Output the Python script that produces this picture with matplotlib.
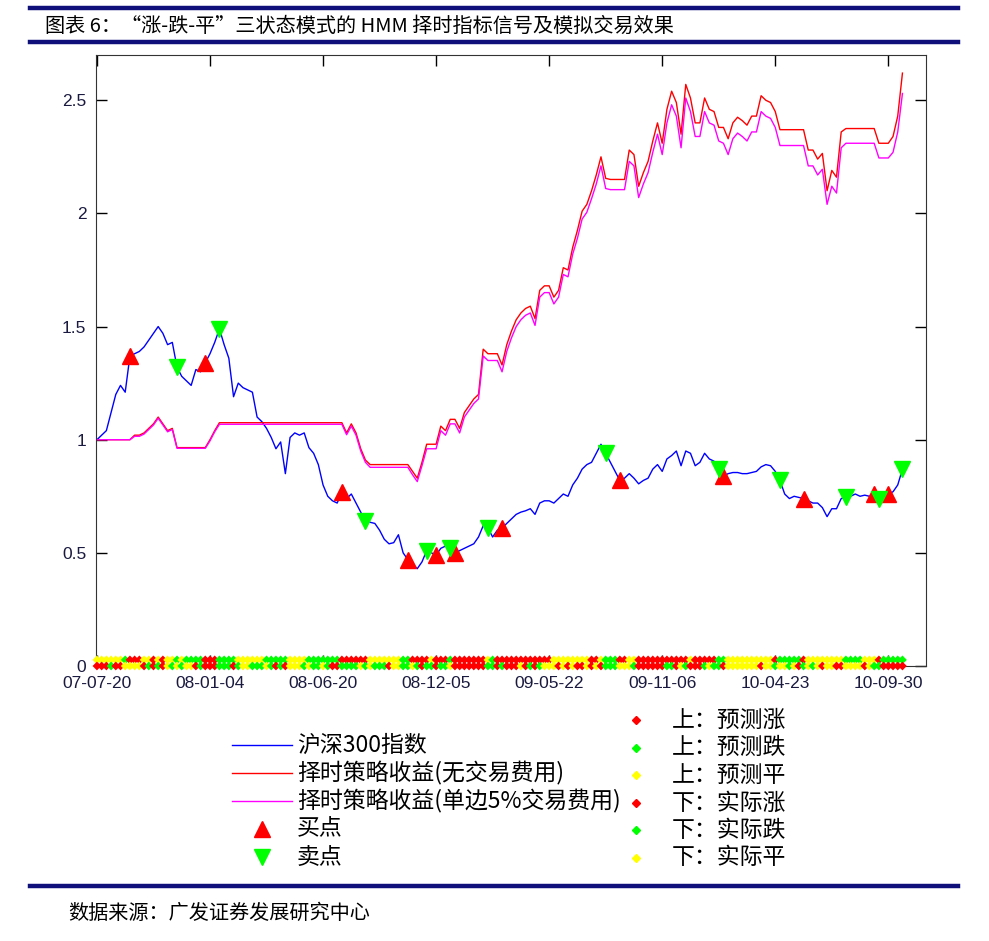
import numpy as np
import matplotlib
matplotlib.use("Agg")
import matplotlib.pyplot as plt
from matplotlib.lines import Line2D

plt.rcParams['font.family'] = ['Noto Sans CJK SC', 'DejaVu Sans']

# weekly data, 2007-07-20 .. 2010-10
tick_pos = [0, 24, 48, 72, 96, 120, 144, 168]
tick_labels = ["07-07-20", "08-01-04", "08-06-20", "08-12-05",
               "09-05-22", "09-11-06", "10-04-23", "10-09-30"]

hs300 = [
    1.00, 1.02, 1.04, 1.12, 1.20, 1.24, 1.21, 1.37, 1.38, 1.39,
    1.41, 1.44, 1.47, 1.50, 1.47, 1.42, 1.43, 1.32, 1.28, 1.26,
    1.24, 1.31, 1.30, 1.34, 1.38, 1.43, 1.49, 1.42, 1.36, 1.19,
    1.25, 1.23, 1.22, 1.21, 1.10, 1.08, 1.05, 1.01, 0.96, 0.99,
    0.85, 1.01, 1.03, 1.02, 1.03, 0.965, 0.94, 0.89, 0.80, 0.75,
    0.73, 0.72, 0.77, 0.74, 0.76, 0.72, 0.68, 0.64, 0.635, 0.63,
    0.60, 0.56, 0.54, 0.545, 0.58, 0.50, 0.47, 0.45, 0.43, 0.46,
    0.51, 0.50, 0.49, 0.52, 0.53, 0.52, 0.50, 0.51, 0.52, 0.53,
    0.54, 0.57, 0.62, 0.61, 0.57, 0.60, 0.61, 0.63, 0.65, 0.67,
    0.68, 0.686, 0.695, 0.67, 0.72, 0.73, 0.73, 0.72, 0.74, 0.76,
    0.75, 0.80, 0.83, 0.87, 0.89, 0.90, 0.94, 0.98, 0.94, 0.90,
    0.86, 0.82, 0.83, 0.85, 0.83, 0.805, 0.82, 0.83, 0.87, 0.89,
    0.86, 0.915, 0.93, 0.95, 0.885, 0.95, 0.94, 0.885, 0.90, 0.94,
    0.915, 0.905, 0.87, 0.84, 0.85, 0.855, 0.855, 0.85, 0.85, 0.855,
    0.86, 0.88, 0.89, 0.885, 0.86, 0.82, 0.76, 0.74, 0.75, 0.745,
    0.74, 0.73, 0.72, 0.72, 0.70, 0.66, 0.695, 0.695, 0.74, 0.745,
    0.75, 0.76, 0.75, 0.755, 0.75, 0.76, 0.74, 0.75, 0.76, 0.77,
    0.80, 0.87,
]

strat = [
    1.00, 1.00, 1.00, 1.00, 1.00, 1.00, 1.00, 1.00, 1.02, 1.02,
    1.03, 1.05, 1.07, 1.10, 1.07, 1.04, 1.05, 0.965, 0.965, 0.965,
    0.965, 0.965, 0.965, 0.965, 1.00, 1.04, 1.075, 1.075, 1.075, 1.075,
    1.075, 1.075, 1.075, 1.075, 1.075, 1.075, 1.075, 1.075, 1.075, 1.075,
    1.075, 1.075, 1.075, 1.075, 1.075, 1.075, 1.075, 1.075, 1.075, 1.075,
    1.075, 1.075, 1.075, 1.03, 1.07, 1.03, 0.96, 0.91, 0.89, 0.89,
    0.89, 0.89, 0.89, 0.89, 0.89, 0.89, 0.89, 0.86, 0.83, 0.90,
    0.98, 0.98, 0.98, 1.06, 1.04, 1.09, 1.09, 1.05, 1.12, 1.15,
    1.18, 1.20, 1.40, 1.38, 1.38, 1.38, 1.33, 1.42, 1.48, 1.53,
    1.56, 1.58, 1.59, 1.535, 1.66, 1.68, 1.68, 1.63, 1.66, 1.76,
    1.75, 1.85, 1.925, 2.01, 2.04, 2.10, 2.17, 2.25, 2.155, 2.15,
    2.15, 2.15, 2.15, 2.28, 2.26, 2.12, 2.18, 2.23, 2.32, 2.40,
    2.31, 2.46, 2.54, 2.49, 2.35, 2.57, 2.51, 2.40, 2.40, 2.51,
    2.46, 2.45, 2.38, 2.38, 2.33, 2.40, 2.425, 2.41, 2.39, 2.43,
    2.43, 2.52, 2.50, 2.49, 2.45, 2.37, 2.37, 2.37, 2.37, 2.37,
    2.37, 2.28, 2.28, 2.24, 2.265, 2.10, 2.19, 2.16, 2.36, 2.375,
    2.375, 2.375, 2.375, 2.375, 2.375, 2.375, 2.31, 2.31, 2.31, 2.34,
    2.43, 2.62,
]

strat_cost = [
    1.00, 1.00, 1.00, 1.00, 1.00, 1.00, 1.00, 1.00, 1.015, 1.015,
    1.025, 1.045, 1.065, 1.095, 1.065, 1.035, 1.045, 0.962, 0.962, 0.962,
    0.962, 0.962, 0.962, 0.962, 0.995, 1.035, 1.068, 1.068, 1.068, 1.068,
    1.068, 1.068, 1.068, 1.068, 1.068, 1.068, 1.068, 1.068, 1.068, 1.068,
    1.068, 1.068, 1.068, 1.068, 1.068, 1.068, 1.068, 1.068, 1.068, 1.068,
    1.068, 1.068, 1.068, 1.022, 1.06, 1.02, 0.95, 0.90, 0.878, 0.878,
    0.878, 0.878, 0.878, 0.878, 0.878, 0.878, 0.878, 0.845, 0.815, 0.885,
    0.96, 0.96, 0.96, 1.04, 1.02, 1.07, 1.07, 1.03, 1.10, 1.13,
    1.16, 1.18, 1.37, 1.35, 1.35, 1.35, 1.30, 1.39, 1.45, 1.50,
    1.53, 1.55, 1.56, 1.505, 1.63, 1.65, 1.65, 1.60, 1.63, 1.73,
    1.72, 1.82, 1.89, 1.975, 2.005, 2.065, 2.13, 2.21, 2.11, 2.105,
    2.105, 2.105, 2.105, 2.23, 2.21, 2.07, 2.13, 2.18, 2.27, 2.35,
    2.26, 2.40, 2.48, 2.43, 2.29, 2.51, 2.45, 2.34, 2.34, 2.45,
    2.40, 2.39, 2.32, 2.31, 2.26, 2.33, 2.355, 2.34, 2.32, 2.36,
    2.36, 2.45, 2.43, 2.42, 2.38, 2.30, 2.30, 2.30, 2.30, 2.30,
    2.30, 2.21, 2.21, 2.17, 2.195, 2.04, 2.12, 2.09, 2.29, 2.31,
    2.31, 2.31, 2.31, 2.31, 2.31, 2.31, 2.245, 2.245, 2.245, 2.27,
    2.36, 2.53,
]

buy_idx = [7, 23, 52, 66, 72, 76, 86, 111, 133, 150, 165, 168]
sell_idx = [17, 26, 57, 70, 75, 83, 108, 132, 145, 159, 166, 171]

# R = 涨, G = 跌, Y = 平
pred_row = ("YYYYYY" "G" "RRR" "YY" "R" "Y" "R" "YY" "G" "Y" "GGGG" "RRR" "GGGG"
            "YYYYYY" "GGGGG" "YYYY" "GGGGGGG" "RRRRRR" "YYYYYYY" "GG" "RRRR" "Y"
            "RRR" "G" "RRRRRRR" "Y" "G" "RRR" "RRRRRRRRR" "YYYYYYYY" "RR" "Y" "GGG"
            "RR" "YY" "RRRRRRRRRRR" "Y" "RRRRR" "GG" "YYYYYYYYYY" "R" "GGGGG" "R"
            "YYYYYYYY" "GGGG" "YYY" "R" "GGGGG")
real_row = ("RRR" "G" "RR" "YYYY" "R" "G" "R" "G" "R" "Y" "G" "Y" "G" "YY" "R" "G"
            "RRR" "GGG" "R" "G" "YY" "GGG" "Y" "G" "R" "G" "R" "YYY" "G" "Y" "GG"
            "Y" "G" "RR" "GGGG" "Y" "G" "Y" "GGG" "R" "YY" "GG" "Y" "G" "R" "GG"
            "R" "GG" "Y" "RRRRRRR" "GG" "R" "G" "R" "RR" "Y" "R" "G" "R" "G" "YYY"
            "R" "Y" "R" "Y" "RR" "Y" "R" "Y" "R" "GGG" "YYY" "G" "RRRRRR" "GG" "R"
            "Y" "G" "RRR" "G" "Y" "GG" "R" "YYYYYYY" "R" "YY" "G" "YY" "G" "Y" "R"
            "G" "Y" "G" "Y" "R" "YY" "RR" "YYYY" "R" "Y" "GG" "RRRRR")

dot_colors = {'R': '#ff0000', 'G': '#00ff00', 'Y': '#ffff00'}

fig = plt.figure(figsize=(9.89, 9.41), dpi=100)
ax = fig.add_axes([96 / 989, 1 - 666 / 941, 830 / 989, 611 / 941])

x = np.arange(len(hs300))
ax.plot(x, hs300, color='#0000ff', lw=1)
ax.plot(x, strat, color='#ff0000', lw=1)
ax.plot(x, strat_cost, color='#ff00ff', lw=1)

ax.plot(buy_idx, [hs300[i] for i in buy_idx], ls='none', marker='^',
        color='#ff0000', ms=11, zorder=4)
ax.plot(sell_idx, [hs300[i] for i in sell_idx], ls='none', marker='v',
        color='#00ff00', ms=11, zorder=4)

n = len(x)
for row, yv in ((pred_row, 0.027), (real_row, 0.0)):
    row = row.ljust(n, 'Y')[:n]
    ax.scatter(x, np.full(n, yv), c=[dot_colors[c] for c in row], marker='D',
               s=20, linewidths=0, clip_on=False, zorder=5)

ax.set_xlim(-0.2, 176)
ax.set_ylim(0, 2.7)
ax.set_xticks(tick_pos, tick_labels)
ax.set_yticks([0, 0.5, 1, 1.5, 2, 2.5], ['0', '0.5', '1', '1.5', '2', '2.5'])
ax.tick_params(direction='in', top=True, right=True, length=8, width=1,
               labelsize=12.5, pad=7, labelcolor='#1a1a40')
for lab in ax.get_xticklabels() + ax.get_yticklabels():
    lab.set_family('Liberation Sans')
for sp in ax.spines.values():
    sp.set_color('#333333')

# header / footer rules
navy = '#10107a'
for yy in (8, 42, 886):
    fig.add_artist(Line2D([30 / 989, 958 / 989], [1 - yy / 941] * 2,
                          color=navy, lw=3.2, transform=fig.transFigure))
fig.text(45 / 989, 1 - 26 / 941,
         "图表 6：“涨-跌-平”三状态模式的 HMM 择时指标信号及模拟交易效果",
         fontsize=14.5, va='center', ha='left')
fig.text(68 / 989, 1 - 913 / 941, "数据来源：广发证券发展研究中心",
         fontsize=14.5, va='center', ha='left')

# legend, left block
left_items = [
    ("沪深300指数", dict(color='#0000ff', lw=1), None),
    ("择时策略收益(无交易费用)", dict(color='#ff0000', lw=1), None),
    ("择时策略收益(单边5%交易费用)", dict(color='#ff00ff', lw=1), None),
    ("买点", None, ('^', '#ff0000')),
    ("卖点", None, ('v', '#00ff00')),
]
for k, (label, line_kw, mk) in enumerate(left_items):
    yy = 1 - (745 + 28 * k) / 941
    if line_kw:
        fig.add_artist(Line2D([232 / 989, 292 / 989], [yy, yy],
                              transform=fig.transFigure, **line_kw))
    else:
        fig.add_artist(Line2D([262 / 989], [yy], marker=mk[0], color=mk[1],
                              ms=11, ls='none', transform=fig.transFigure))
    fig.text(297 / 989, yy, label, fontsize=16.5, va='center', ha='left')

# legend, right block
right_items = [
    ("上：预测涨", '#ff0000'), ("上：预测跌", '#00ff00'), ("上：预测平", '#ffff00'),
    ("下：实际涨", '#ff0000'), ("下：实际跌", '#00ff00'), ("下：实际平", '#ffff00'),
]
for k, (label, col) in enumerate(right_items):
    yy = 1 - (720 + 27.6 * k) / 941
    fig.add_artist(Line2D([636 / 989], [yy], marker='D', color=col, ms=4,
                          ls='none', transform=fig.transFigure))
    fig.text(672 / 989, yy, label, fontsize=16.5, va='center', ha='left')

fig.savefig("out.png", dpi=100)
